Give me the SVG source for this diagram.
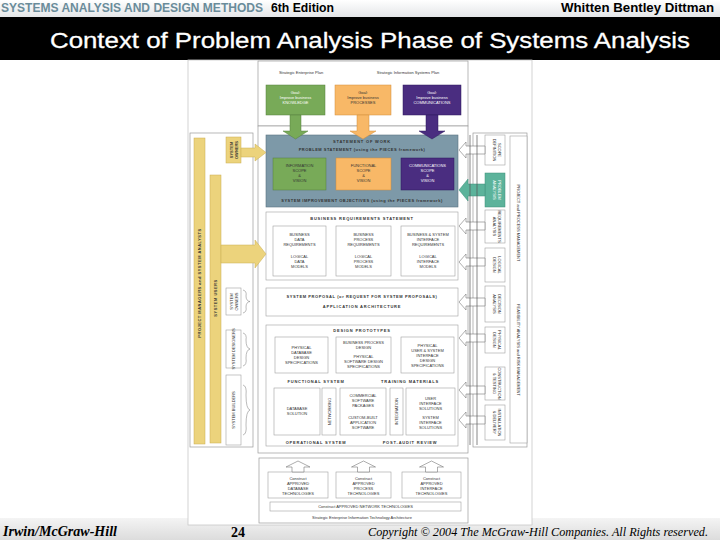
<svg xmlns="http://www.w3.org/2000/svg" width="720" height="540" viewBox="0 0 720 540">
<defs>
<linearGradient id="hdr" x1="0" y1="0" x2="0" y2="1"><stop offset="0" stop-color="#ffffff"/><stop offset="1" stop-color="#e4e6e8"/></linearGradient>
<linearGradient id="ftr" x1="0" y1="0" x2="0" y2="1"><stop offset="0" stop-color="#f4f4f4"/><stop offset="1" stop-color="#dcdcdc"/></linearGradient>
<style>
.t{font-family:"Liberation Sans",Arial,sans-serif;font-size:4px;fill:#333;text-anchor:middle}
.tw{font-family:"Liberation Sans",Arial,sans-serif;font-size:4px;fill:#fff;text-anchor:middle}
.tb{font-family:"Liberation Sans",Arial,sans-serif;font-size:4px;fill:#333;text-anchor:middle;font-weight:bold;letter-spacing:0.8px}
.fr{fill:#fff;stroke:#9a9a9a;stroke-width:0.7}
.bx{fill:#fff;stroke:#a0a0a0;stroke-width:0.6}
.yl{fill:#ecd37c;stroke:#c9ad52;stroke-width:0.5}
.ha{fill:#fff;stroke:#777;stroke-width:0.6}
.rail{stroke:#555;stroke-width:0.7}
.br{fill:none;stroke:#777;stroke-width:0.5}
</style>
</defs>
<rect width="720" height="540" fill="#ffffff"/>
<rect x="0" y="0" width="720" height="17" fill="url(#hdr)"/>
<text x="1" y="12" font-family="Liberation Sans, Arial, sans-serif" font-size="12" font-weight="bold" fill="#6a8c9a" textLength="262" lengthAdjust="spacingAndGlyphs">SYSTEMS ANALYSIS AND DESIGN METHODS</text>
<text x="271" y="12" font-family="Liberation Sans, Arial, sans-serif" font-size="12" font-weight="bold" fill="#000" textLength="63" lengthAdjust="spacingAndGlyphs">6th Edition</text>
<text x="561" y="12" font-family="Liberation Sans, Arial, sans-serif" font-size="12" font-weight="bold" fill="#000" textLength="153" lengthAdjust="spacingAndGlyphs">Whitten  Bentley  Dittman</text>
<rect x="0" y="17" width="720" height="43" fill="#000"/>
<text x="50" y="48" font-family="Liberation Sans, Arial, sans-serif" font-size="22" fill="#fff" stroke="#fff" stroke-width="0.3" textLength="640" lengthAdjust="spacingAndGlyphs">Context of Problem Analysis Phase of Systems Analysis</text>
<rect x="0" y="518" width="720" height="22" fill="url(#ftr)"/>

<g id="figure">
<rect x="188" y="60" width="344" height="465" fill="#fff" stroke="#c8c8c8" stroke-width="0.8"/>
</g>

<g id="plans">
<rect class="fr" x="258" y="61" width="210" height="65"/>
<text class="t" x="301" y="74">Strategic Enterprise Plan</text>
<text class="t" x="408" y="74">Strategic Information Systems Plan</text>
</g>
<g id="goal-knowledge">
<rect x="266" y="85" width="59" height="30" fill="#78aa58" stroke="#557f3c" stroke-width="0.5"/>
<text class="tw" x="295.5" y="94">Goal:</text><text class="tw" x="295.5" y="99">Improve business</text><text class="tw" x="295.5" y="104">KNOWLEDGE</text>
</g>
<g id="goal-processes">
<rect x="335" y="85" width="56" height="30" fill="#f8b867" stroke="#d38d3a" stroke-width="0.5"/>
<text class="t" x="363" y="94">Goal:</text><text class="t" x="363" y="99">Improve business</text><text class="t" x="363" y="104">PROCESSES</text>
</g>
<g id="goal-communications">
<rect x="403" y="85" width="58" height="30" fill="#4a2d80" stroke="#2f1a5c" stroke-width="0.5"/>
<text class="tw" x="432" y="94">Goal:</text><text class="tw" x="432" y="99">Improve business</text><text class="tw" x="432" y="104">COMMUNICATIONS</text>
</g>

<g id="main-panel">
<rect class="fr" x="258" y="126" width="210" height="327"/>
</g>

<g id="statement-of-work">
<rect x="266" y="135" width="192" height="72" fill="#7d99a8" stroke="#5a7381" stroke-width="0.6"/>
<text class="tb" x="362" y="143">STATEMENT OF WORK</text>
<text class="tb" x="362" y="151" style="letter-spacing:0.5px">PROBLEM STATEMENT (using the PIECES framework)</text>
<rect x="273" y="158" width="53" height="32" fill="#78aa58" stroke="#557f3c" stroke-width="0.5"/>
<text class="t" x="299.5" y="167">INFORMATION</text><text class="t" x="299.5" y="172">SCOPE</text><text class="t" x="299.5" y="177">&amp;</text><text class="t" x="299.5" y="182">VISION</text>
<rect x="336" y="158" width="55" height="32" fill="#f8b867" stroke="#d38d3a" stroke-width="0.5"/>
<text class="t" x="363.5" y="167">FUNCTIONAL</text><text class="t" x="363.5" y="172">SCOPE</text><text class="t" x="363.5" y="177">&amp;</text><text class="t" x="363.5" y="182">VISION</text>
<rect x="401" y="158" width="53" height="32" fill="#4a2d80" stroke="#2f1a5c" stroke-width="0.5"/>
<text class="tw" x="427.5" y="167">COMMUNICATIONS</text><text class="tw" x="427.5" y="172">SCOPE</text><text class="tw" x="427.5" y="177">&amp;</text><text class="tw" x="427.5" y="182">VISION</text>
<text class="tb" x="362" y="202" style="letter-spacing:0.5px">SYSTEM IMPROVEMENT OBJECTIVES (using the PIECES framework)</text>
</g>

<g id="business-requirements">
<rect class="bx" x="266" y="212" width="192" height="68"/>
<text class="tb" x="362" y="220">BUSINESS REQUIREMENTS STATEMENT</text>
<rect class="bx" x="273" y="226" width="53" height="50"/>
<text class="t" x="299.5" y="236">BUSINESS</text><text class="t" x="299.5" y="241">DATA</text><text class="t" x="299.5" y="246">REQUIREMENTS</text>
<text class="t" x="299.5" y="258">LOGICAL</text><text class="t" x="299.5" y="263">DATA</text><text class="t" x="299.5" y="268">MODELS</text>
<rect class="bx" x="336" y="226" width="55" height="50"/>
<text class="t" x="363.5" y="236">BUSINESS</text><text class="t" x="363.5" y="241">PROCESS</text><text class="t" x="363.5" y="246">REQUIREMENTS</text>
<text class="t" x="363.5" y="258">LOGICAL</text><text class="t" x="363.5" y="263">PROCESS</text><text class="t" x="363.5" y="268">MODELS</text>
<rect class="bx" x="401" y="226" width="54" height="50"/>
<text class="t" x="428" y="236">BUSINESS &amp; SYSTEM</text><text class="t" x="428" y="241">INTERFACE</text><text class="t" x="428" y="246">REQUIREMENTS</text>
<text class="t" x="428" y="258">LOGICAL</text><text class="t" x="428" y="263">INTERFACE</text><text class="t" x="428" y="268">MODELS</text>
</g>

<g id="system-proposal">
<rect class="bx" x="266" y="288" width="192" height="28"/>
<text class="tb" x="362" y="298" style="letter-spacing:0.6px">SYSTEM PROPOSAL (or REQUEST FOR SYSTEM PROPOSALS)</text>
<text class="tb" x="362" y="308">APPLICATION ARCHITECTURE</text>
</g>

<g id="design-construction">
<rect class="bx" x="266" y="325" width="192" height="121"/>
<text class="tb" x="362" y="332">DESIGN PROTOTYPES</text>
<rect class="bx" x="275" y="337" width="53" height="36"/>
<text class="t" x="301.5" y="349">PHYSICAL</text><text class="t" x="301.5" y="354">DATABASE</text><text class="t" x="301.5" y="359">DESIGN</text><text class="t" x="301.5" y="364">SPECIFICATIONS</text>
<rect class="bx" x="336" y="337" width="55" height="36"/>
<text class="t" x="363.5" y="344">BUSINESS PROCESS</text><text class="t" x="363.5" y="349">DESIGN</text><text class="t" x="363.5" y="358">PHYSICAL</text><text class="t" x="363.5" y="363">SOFTWARE DESIGN</text><text class="t" x="363.5" y="368">SPECIFICATIONS</text>
<rect class="bx" x="401" y="337" width="53" height="36"/>
<text class="t" x="427.5" y="347">PHYSICAL</text><text class="t" x="427.5" y="352">USER &amp; SYSTEM</text><text class="t" x="427.5" y="357">INTERFACE</text><text class="t" x="427.5" y="362">DESIGN</text><text class="t" x="427.5" y="367">SPECIFICATIONS</text>
<text class="tb" x="316" y="383">FUNCTIONAL SYSTEM</text>
<text class="tb" x="410" y="383">TRAINING MATERIALS</text>
<rect class="bx" x="274" y="388" width="46" height="47"/>
<text class="t" x="297" y="410">DATABASE</text><text class="t" x="297" y="415">SOLUTION</text>
<rect class="bx" x="322" y="388" width="14" height="47"/>
<text class="t" transform="translate(330.5,411.5) rotate(-90)">NETWORKING</text>
<rect class="bx" x="340" y="388" width="46" height="47"/>
<text class="t" x="363" y="397">COMMERCIAL</text><text class="t" x="363" y="402">SOFTWARE</text><text class="t" x="363" y="407">PACKAGES</text>
<text class="t" x="363" y="419">CUSTOM-BUILT</text><text class="t" x="363" y="424">APPLICATION</text><text class="t" x="363" y="429">SOFTWARE</text>
<rect class="bx" x="390" y="388" width="13" height="47"/>
<text class="t" transform="translate(398,411.5) rotate(-90)">INTEGRATION</text>
<rect class="bx" x="406" y="388" width="49" height="47"/>
<text class="t" x="430.5" y="400">USER</text><text class="t" x="430.5" y="405">INTERFACE</text><text class="t" x="430.5" y="410">SOLUTIONS</text>
<text class="t" x="430.5" y="419">SYSTEM</text><text class="t" x="430.5" y="424">INTERFACE</text><text class="t" x="430.5" y="429">SOLUTIONS</text>
<text class="tb" x="316" y="444">OPERATIONAL SYSTEM</text>
<text class="tb" x="410" y="444">POST-AUDIT REVIEW</text>
</g>

<g id="architecture">
<rect class="fr" x="259" y="458" width="209" height="65"/>
<rect class="bx" x="268" y="472" width="60" height="26"/>
<text class="t" x="298" y="480">Construct</text><text class="t" x="298" y="485">APPROVED</text><text class="t" x="298" y="490">DATABASE</text><text class="t" x="298" y="495">TECHNOLOGIES</text>
<rect class="bx" x="336" y="472" width="55" height="26"/>
<text class="t" x="363.5" y="480">Construct</text><text class="t" x="363.5" y="485">APPROVED</text><text class="t" x="363.5" y="490">PROCESS</text><text class="t" x="363.5" y="495">TECHNOLOGIES</text>
<rect class="bx" x="402" y="472" width="59" height="26"/>
<text class="t" x="431.5" y="480">Construct</text><text class="t" x="431.5" y="485">APPROVED</text><text class="t" x="431.5" y="490">INTERFACE</text><text class="t" x="431.5" y="495">TECHNOLOGIES</text>
<rect class="bx" x="270" y="502" width="191" height="9"/>
<text class="t" x="365.5" y="508">Construct APPROVED NETWORK TECHNOLOGIES</text>
<text class="t" x="362" y="519">Strategic Enterprise Information Technology Architecture</text>
</g>

<g id="left-roles">
<rect class="fr" x="190" y="133" width="63" height="314"/>
<rect class="yl" x="194" y="138" width="11" height="306"/>
<text class="t" transform="translate(201,283) rotate(-90)" style="font-weight:bold;letter-spacing:0.5px">PROJECT MANAGERS      and      SYSTEM ANALYSTS</text>
<rect class="yl" x="210" y="175" width="11" height="268"/>
<text class="t" transform="translate(217,298) rotate(-90)" style="font-weight:bold;letter-spacing:0.5px">SYSTEM USERS</text>
<rect class="yl" x="226" y="137" width="15" height="26"/>
<text class="t" transform="translate(233,150) rotate(-90)" style="font-weight:bold">SYSTEM</text>
<text class="t" transform="translate(238,150) rotate(-90)" style="font-weight:bold">OWNERS</text>
<rect class="bx" x="226" y="288" width="15" height="27"/>
<text class="t" transform="translate(233,301.5) rotate(-90)">SYSTEM</text>
<text class="t" transform="translate(238,301.5) rotate(-90)">OWNERS</text>
<rect class="bx" x="226" y="330" width="15" height="38"/>
<text class="t" transform="translate(235,349) rotate(-90)">SYSTEM DESIGNERS</text>
<rect class="bx" x="226" y="375" width="15" height="70"/>
<text class="t" transform="translate(235,410) rotate(-90)">SYSTEM BUILDERS</text>
</g>

<g id="right-management">
<rect class="fr" x="473" y="133" width="54" height="314"/>
<rect class="bx" x="510" y="136" width="17" height="307"/>
<text class="t" transform="translate(517,223) rotate(90)">PROJECT and PROCESS MANAGEMENT</text>
<text class="t" transform="translate(517,350) rotate(90)">FEASIBILITY ANALYSIS and RISK MANAGEMENT</text>
<rect class="bx" x="485" y="135" width="20" height="30"/>
<text class="t" transform="translate(498,150) rotate(90)">SCOPE</text><text class="t" transform="translate(493,150) rotate(90)">DEFINITION</text>
<rect x="485" y="173" width="20" height="34" fill="#5cb39b" stroke="#3f8f78" stroke-width="0.5"/>
<text class="tw" transform="translate(498,190) rotate(90)">PROBLEM</text><text class="tw" transform="translate(493,190) rotate(90)">ANALYSIS</text>
<rect class="bx" x="485" y="210" width="20" height="33"/>
<text class="t" transform="translate(498,226.5) rotate(90)">REQUIREMENTS</text><text class="t" transform="translate(493,226.5) rotate(90)">ANALYSIS</text>
<rect class="bx" x="485" y="248" width="20" height="34"/>
<text class="t" transform="translate(498,265) rotate(90)">LOGICAL</text><text class="t" transform="translate(493,265) rotate(90)">DESIGN</text>
<rect class="bx" x="485" y="286" width="20" height="36"/>
<text class="t" transform="translate(498,304) rotate(90)">DECISION</text><text class="t" transform="translate(493,304) rotate(90)">ANALYSIS</text>
<rect class="bx" x="485" y="327" width="20" height="26"/>
<text class="t" transform="translate(498,340) rotate(90)">PHYSICAL</text><text class="t" transform="translate(493,340) rotate(90)">DESIGN</text>
<rect class="bx" x="485" y="367" width="20" height="33"/>
<text class="t" transform="translate(498,383.5) rotate(90)">CONSTRUCTION</text><text class="t" transform="translate(493,383.5) rotate(90)">&amp; TESTING</text>
<rect class="bx" x="485" y="405" width="20" height="35"/>
<text class="t" transform="translate(498,422.5) rotate(90)">INSTALLATION</text><text class="t" transform="translate(493,422.5) rotate(90)">&amp; DELIVERY</text>
</g>

<g id="connectors">
<polygon points="290,115 301,115 301,131 308,131 295.5,139 283,131 290,131" fill="#78aa58" stroke="#557f3c" stroke-width="0.5"/>
<polygon points="357,115 369,115 369,131 376,131 363,139 350,131 357,131" fill="#f8b867" stroke="#d38d3a" stroke-width="0.5"/>
<polygon points="426,115 438,115 438,131 445,131 432,139 419,131 426,131" fill="#4a2d80" stroke="#2f1a5c" stroke-width="0.5"/>
<polygon points="241,148 255,148 255,144 266,152.5 255,161 255,157 241,157" class="yl"/>
<polygon points="221,245 255,245 255,240 266,254 255,268 255,263 221,263" class="yl"/>
<path class="br" d="M243,290 q4,1 3,6 q0,5 4,5.5 q-4,0.5 -4,5.5 q1,5 -3,6"/>
<path class="br" d="M243,333 q4,1 3,7 q0,8 4,9 q-4,1 -4,9 q1,7 -3,8"/>
<path class="br" d="M243,385 q4,1 3,10 q0,14 4,15 q-4,1 -4,15 q1,9 -3,10"/>
<polygon points="485,146 466,146 466,142 459,150 466,158 466,154 485,154" class="ha"/>
<polygon points="485,184 468,184 468,179 459,190 468,201 468,196 485,196" fill="#5cb39b" stroke="#3f8f78" stroke-width="0.5"/>
<polygon points="485,222 466,222 466,218 459,226 466,234 466,230 485,230" class="ha"/>
<polygon points="485,258 466,258 466,254 459,262 466,270 466,266 485,266" class="ha"/>
<polygon points="485,298 466,298 466,294 459,302 466,310 466,306 485,306" class="ha"/>
<polygon points="485,334 466,334 466,330 459,338 466,346 466,342 485,342" class="ha"/>
<polygon points="485,386 466,386 466,382 459,390 466,398 466,394 485,394" class="ha"/>
<polygon points="485,416 466,416 466,412 459,420 466,428 466,424 485,424" class="ha"/>
<line class="rail" x1="470" y1="135" x2="470" y2="445"/>
<line class="rail" x1="477" y1="135" x2="477" y2="445"/>
<polygon points="292,472 292,467 286,467 298,461 310,467 304,467 304,472" class="ha"/>
<polygon points="357.5,472 357.5,467 351.5,467 363.5,461 375.5,467 369.5,467 369.5,472" class="ha"/>
<polygon points="425.5,472 425.5,467 419.5,467 431.5,461 443.5,467 437.5,467 437.5,472" class="ha"/>
</g>

<text x="3" y="536" font-family="Liberation Serif, Times New Roman, serif" font-size="14" font-style="italic" font-weight="bold" fill="#000" textLength="114" lengthAdjust="spacingAndGlyphs">Irwin/McGraw-Hill</text>
<text x="231" y="537" font-family="Liberation Serif, Times New Roman, serif" font-size="14" font-weight="bold" fill="#000">24</text>
<text x="368" y="536" font-family="Liberation Serif, Times New Roman, serif" font-size="12" font-style="italic" fill="#000" textLength="340" lengthAdjust="spacingAndGlyphs">Copyright © 2004 The McGraw-Hill Companies. All Rights reserved.</text>
</svg>
